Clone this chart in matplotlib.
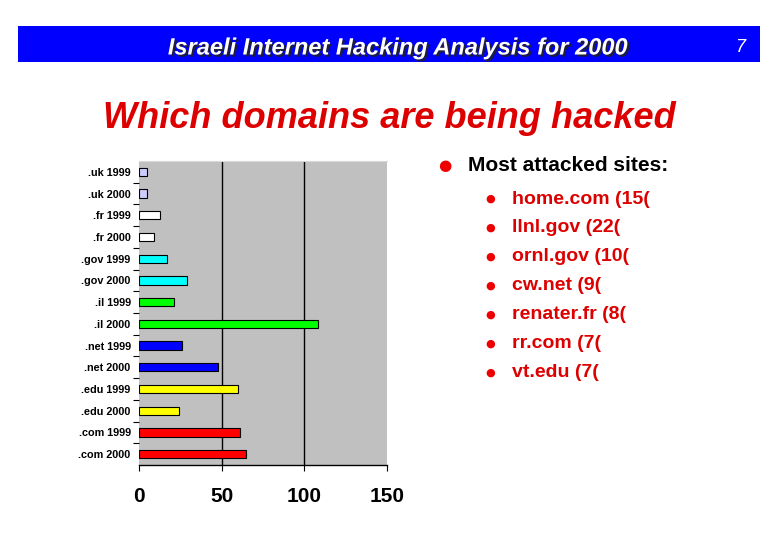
import matplotlib.pyplot as plt
import matplotlib.patheffects as pe

plt.rcParams['font.family'] = ['Liberation Sans', 'DejaVu Sans']

domains = ['.uk 1999', '.uk 2000', '.fr 1999', '.fr 2000', '.gov 1999', '.gov 2000',
           '.il 1999', '.il 2000', '.net 1999', '.net 2000', '.edu 1999', '.edu 2000',
           '.com 1999', '.com 2000']
hacks = [5, 5, 13, 9, 17, 29, 21, 108, 26, 48, 60, 24, 61, 65]
bar_colors = ['#ccccff', '#ccccff', 'white', 'white', 'cyan', 'cyan', '#00ff00', '#00ff00',
              '#0000ff', '#0000ff', 'yellow', 'yellow', 'red', 'red']
xticks = [0, 50, 100, 150]

sites = ['home.com (15(', 'llnl.gov (22(', 'ornl.gov (10(', 'cw.net (9(',
         'renater.fr (8(', 'rr.com (7(', 'vt.edu (7(']

fig = plt.figure(figsize=(7.8, 5.4), dpi=100)

# header band
band = fig.add_axes([18 / 780, 1 - 62 / 540, 742 / 780, 36 / 540])
band.set_facecolor('#0000ff')
band.set_xticks([])
band.set_yticks([])
for s in band.spines.values():
    s.set_visible(False)
shadow = [pe.withSimplePatchShadow(offset=(1.5, -1.5), shadow_rgbFace='#222222', alpha=0.9)]
fig.text(398 / 780, 1 - 48 / 540, 'Israeli Internet Hacking Analysis for 2000', color='white',
         fontsize=17, fontweight='bold', fontstyle='italic', ha='center', va='center',
         path_effects=shadow)
fig.text(740 / 780, 1 - 48 / 540, '7', color='white', fontsize=13, fontstyle='italic',
         ha='center', va='center')

fig.text(389 / 780, 1 - 119 / 540, 'Which domains are being hacked', color='#dd0000',
         fontsize=26, fontweight='bold', fontstyle='italic', ha='center', va='center')

# bar chart
ax = fig.add_axes([139 / 780, 1 - 465 / 540, 248 / 780, 304 / 540])
ax.set_facecolor('#c0c0c0')
pos = list(range(len(domains)))
ax.barh(pos, hacks, height=0.38, color=bar_colors, edgecolor='black', linewidth=0.8, zorder=3)
ax.set_xlim(0, 150)
ax.set_ylim(len(domains) - 0.5, -0.5)
ax.set_yticks(pos)
ax.set_yticklabels(domains, fontsize=7.8, fontweight='bold')
ax.set_yticks([p + 0.5 for p in pos[:-1]], minor=True)
ax.tick_params(axis='y', which='major', length=0, pad=6)
ax.tick_params(axis='y', which='minor', length=4, width=0.8, direction='out')
ax.set_xticks(xticks)
ax.set_xticklabels([str(v) for v in xticks], fontsize=15, fontweight='bold')
ax.tick_params(axis='x', length=4, width=0.8, pad=12)
for v in xticks[1:-1]:
    ax.axvline(v, color='black', linewidth=1, zorder=1)
ax.spines['left'].set_visible(False)
ax.spines['right'].set_visible(False)
ax.spines['top'].set_color('#d8d8d8')
ax.spines['bottom'].set_linewidth(1)

# bullet list
fig.text(445 / 780, 1 - 166 / 540, '\u25cf', color='#ee0000', fontsize=11, ha='center',
         va='center', family=['DejaVu Sans'])
fig.text(468 / 780, 1 - 166 / 540, 'Most attacked sites:', color='black', fontsize=15,
         fontweight='bold', ha='left', va='center')
for i, s in enumerate(sites):
    y = 1 - (199 + i * 28.9) / 540
    fig.text(490 / 780, y, '\u25cf', color='#ee0000', fontsize=8, ha='center', va='center',
             family=['DejaVu Sans'])
    fig.text(512 / 780, y, s, color='#dd0000', fontsize=14, fontweight='bold',
             ha='left', va='center')

fig.savefig('out.png', dpi=100)
